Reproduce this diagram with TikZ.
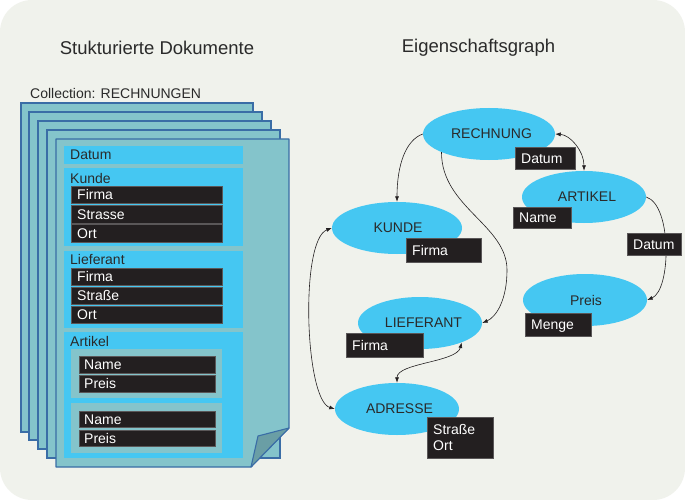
\documentclass[tikz,border=0pt]{standalone}
\usepackage{fontspec}
\setmainfont{Liberation Sans}
\usetikzlibrary{shapes.geometric,arrows.meta}
\definecolor{bg}{HTML}{F0F2EC}
\definecolor{page}{HTML}{84C4CB}
\definecolor{pageline}{HTML}{3A6DA6}
\definecolor{fold}{HTML}{6A9EA5}
\definecolor{cy}{HTML}{45C7F2}
\definecolor{blk}{HTML}{231F20}
\definecolor{ink}{HTML}{2A2A2A}
\begin{document}
\begin{tikzpicture}[x=1pt,y=-1pt,font=\fontsize{14}{16}\selectfont,text=ink,
  pagebox/.style={fill=page,draw=pageline,line width=1.1pt},
  bbox/.style={fill=blk,draw=blk!75!white,line width=0.4pt,text=white,anchor=north west,
    inner xsep=6pt,inner ysep=0pt,text height=10pt,text depth=0pt,align=left},
  bboxml/.style={fill=blk,draw=blk!75!white,line width=0.4pt,text=white,anchor=north west,
    inner xsep=6pt,inner ysep=0pt,align=left},
  lbl/.style={anchor=west,inner sep=0pt,text height=10pt,text depth=0pt},
  title/.style={inner sep=0pt,font=\fontsize{18.5}{22}\selectfont},
  ell/.style={ellipse,fill=cy,inner sep=0pt,minimum height=52pt},
  arr/.style={draw=blk,line width=0.6pt,-{Latex[length=5.5pt,width=4pt]}},
  darr/.style={draw=blk,line width=0.6pt,{Latex[length=5.5pt,width=4pt]}-{Latex[length=5.5pt,width=4pt]}}]
\useasboundingbox (0,0) rectangle (685,500);
\fill[white] (0,0) rectangle (685,500);
\fill[bg,rounded corners=32pt] (0,0) rectangle (685,500);

% titles
\node[title] (t1) at (157,48) {Stukturierte Dokumente};
\node[title] (t2) at (478.5,48) {Eigenschaftsgraph};
\node[anchor=west,inner sep=0pt] (coll) at (30,93) {Collection: RECHNUNGEN};

% pages
\filldraw[pagebox] (21,103) rectangle (253,432);
\filldraw[pagebox] (29,112) rectangle (262,440);
\filldraw[pagebox] (38,121) rectangle (271,449);
\filldraw[pagebox] (47,130) rectangle (280,458);
\filldraw[pagebox,line join=round] (56,139) -- (289,139) -- (289,428) -- (251,467) -- (56,467) -- cycle;
\filldraw[fill=fold,draw=pageline,line width=1.1pt,line join=round] (251,467) -- (258,436) -- (289,428) -- cycle;

% panels
\fill[cy] (64,146) rectangle (243,164);
\fill[cy] (64,168) rectangle (243,246);
\fill[cy] (64,251) rectangle (243,328);
\fill[cy] (64,332) rectangle (243,458);
\fill[page] (71,349) rectangle (222,398);
\fill[page] (71,403) rectangle (222,453);

\node[lbl] (ldat) at (70,155) {Datum};
\node[lbl] (lkun) at (70,178) {Kunde};
\node[lbl] (llie) at (70,259) {Lieferant};
\node[lbl] (lart) at (70,341) {Artikel};

\node[bbox,text width=139pt,minimum height=17pt] (k1) at (71,186) {Firma};
\node[bbox,text width=139pt,minimum height=18pt] (k2) at (71,205) {Strasse};
\node[bbox,text width=139pt,minimum height=18pt] (k3) at (71,224) {Ort};
\node[bbox,text width=139pt,minimum height=17pt] (l1) at (71,268) {Firma};
\node[bbox,text width=139pt,minimum height=17pt] (l2) at (71,287) {Straße};
\node[bbox,text width=139pt,minimum height=17pt] (l3) at (71,306) {Ort};
\node[bbox,inner xsep=5pt,text width=126pt,minimum height=17pt] (a1) at (79,356) {Name};
\node[bbox,inner xsep=5pt,text width=126pt,minimum height=17pt] (a2) at (79,375) {Preis};
\node[bbox,inner xsep=5pt,text width=126pt,minimum height=16pt] (a3) at (79,411) {Name};
\node[bbox,inner xsep=5pt,text width=126pt,minimum height=16pt] (a4) at (79,430) {Preis};

% graph
\node[ell,minimum width=132pt] (rech) at (489,134) {\hspace*{5pt}RECHNUNG};
\node[ell,minimum width=124pt] (art) at (584,197) {\hspace*{6pt}ARTIKEL};
\node[ell,minimum width=130pt] (kunde) at (397,228) {\hspace*{2pt}KUNDE};
\node[ell,minimum width=124pt] (lief) at (420,323) {\hspace*{7pt}LIEFERANT};
\node[ell,minimum width=124pt] (preis) at (585,300) {\hspace*{2pt}Preis};
\node[ell,minimum width=124pt] (adr) at (397,409) {\hspace*{5pt}ADRESSE};

\coordinate (w2) at (507,270);
\draw[arr] (rech.west) .. controls +(-17,6) and +(0,-37) .. (kunde.north);
\draw[arr] (rech.201) .. controls +(0,55) and +(0,-45) .. (w2) .. controls +(0,30) and +(14,-6) .. (lief.east);
\draw[darr] (rech.east) .. controls +(15,1) and +(0,-20) .. (art.north);
\draw[arr] (art.east) .. controls +(26,8) and +(24,-10) .. (preis.east);
\draw[darr] (kunde.west) .. controls +(-32,12) and +(-30,-9) .. (adr.west);
\draw[darr] (lief.335) .. controls +(-5,20) and +(0,-20) .. (adr.north);

\node[bbox,text width=48pt,minimum height=22pt] (gd) at (515,147) {Datum};
\node[bbox,text width=46pt,minimum height=21pt] (gn) at (513,207) {Name};
\node[bbox,text width=63pt,minimum height=24pt] (gkf) at (406,238) {Firma};
\node[bbox,text width=42pt,minimum height=22pt] (gad) at (627,233) {Datum};
\node[bbox,text width=54pt,minimum height=23pt] (gm) at (525,313) {Menge};
\node[bbox,text width=65pt,minimum height=24pt] (glf) at (346,333) {Firma};
\node[bboxml,text width=54pt,minimum height=41pt] (gso) at (427,417) {Straße\\Ort};
\end{tikzpicture}
\end{document}
